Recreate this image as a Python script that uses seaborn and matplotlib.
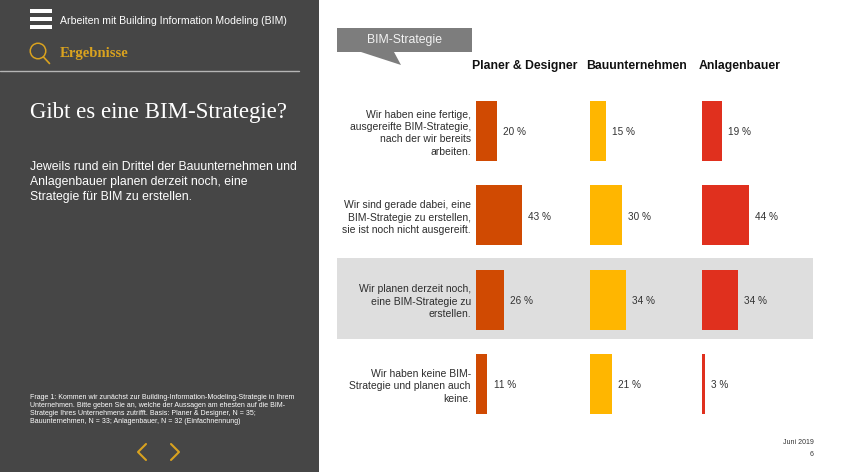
import matplotlib
matplotlib.use("Agg")
import matplotlib.pyplot as plt
from matplotlib.patches import Rectangle, Polygon, Ellipse
from matplotlib.lines import Line2D
import seaborn as sns
import pandas as pd

W, H = 843, 472

statements = [
    "Wir haben eine fertige,\nausgereifte BIM-Strategie,\nnach der wir bereits\narbeiten.",
    "Wir sind gerade dabei, eine\nBIM-Strategie zu erstellen,\nsie ist noch nicht ausgereift.",
    "Wir planen derzeit noch,\neine BIM-Strategie zu\nerstellen.",
    "Wir haben keine BIM-\nStrategie und planen auch\nkeine.",
]
groups = ["Planer & Designer", "Bauunternehmen", "Anlagenbauer"]
planer = [20, 43, 26, 11]
bau = [15, 30, 34, 21]
anlagen = [19, 44, 34, 3]
series = [planer, bau, anlagen]
colors = ["#D04A02", "#FFB600", "#E0301E"]

sns.set_theme(style="white")
plt.rcParams["font.family"] = ["Liberation Sans", "DejaVu Sans"]

fig = plt.figure(figsize=(W / 100, H / 100), dpi=100, facecolor="white")

def fx(x):
    return x / W

def fy(y):
    return 1 - y / H

def rect(x0, y0, x1, y1, color, z=0):
    fig.add_artist(Rectangle((fx(x0), fy(y1)), (x1 - x0) / W, (y1 - y0) / H,
                             transform=fig.transFigure, facecolor=color,
                             edgecolor="none", zorder=z))

def line(xs, ys, color, lw):
    fig.add_artist(Line2D([fx(x) for x in xs], [fy(y) for y in ys], color=color,
                          lw=lw, transform=fig.transFigure, zorder=2))

def text(x, y, s, **kw):
    kw.setdefault("va", "center")
    kw.setdefault("ha", "left")
    fig.text(fx(x), fy(y), s, zorder=3, **kw)

DARK = "#464646"
GOLD = "#D9A21F"
rect(0, 0, 319, H, DARK)
rect(337, 258, 813, 339, "#DEDEDE")

# sidebar
for y0 in (9, 17, 25):
    rect(30, y0, 52, y0 + 3.5, "white", 2)
text(60, 21.5, "Arbeiten mit Building Information Modeling (BIM)", color="white", fontsize=7.55)
fig.add_artist(Ellipse((fx(38), fy(51)), 15.5 / W, 15.5 / H, transform=fig.transFigure,
                       facecolor="none", edgecolor=GOLD, lw=1.1, zorder=2))
line([43.5, 49.5], [57, 63.5], GOLD, 1.2)
text(60, 54, "Ergebnisse", color=GOLD, fontsize=10.6, family="Liberation Serif", weight="bold")
line([0, 299], [71, 71], "#B5B5B5", 1.0)
text(30, 112.5, "Gibt es eine BIM-Strategie?", color="white", fontsize=16.45, family="Liberation Serif")
text(30, 182, "Jeweils rund ein Drittel der Bauunternehmen und\nAnlagenbauer planen derzeit noch, eine\nStrategie für BIM zu erstellen.",
     color="white", fontsize=8.8, linespacing=1.33)
text(30, 409.5, "Frage 1: Kommen wir zunächst zur Building-Information-Modeling-Strategie in Ihrem\n"
     "Unternehmen. Bitte geben Sie an, welche der Aussagen am ehesten auf die BIM-\n"
     "Strategie Ihres Unternehmens zutrifft. Basis: Planer & Designer, N = 35;\n"
     "Bauunternehmen, N = 33; Anlagenbauer, N = 32 (Einfachnennung)",
     color="white", fontsize=5.05, linespacing=1.25)
line([146, 138, 146], [444, 452, 460], GOLD, 1.5)
line([171, 179, 171], [444, 452, 460], GOLD, 1.5)

# callout
fig.add_artist(Polygon([(fx(337), fy(28)), (fx(472), fy(28)), (fx(472), fy(52)), (fx(394), fy(52)),
                        (fx(401), fy(65)), (fx(361), fy(52)), (fx(337), fy(52))],
                       closed=True, transform=fig.transFigure, facecolor="#7D7D7D",
                       edgecolor="none", zorder=1))
text(404.5, 40, "BIM-Strategie", color="#F2F2F2", fontsize=8.8, ha="center")

# bars
xpos = [475.7, 589.7, 701.7]
head_x = [472, 586.5, 699]
row = 84.33
top = 131 - row / 2
scale = 1.07
axw = 105
for i, (vals, col) in enumerate(zip(series, colors)):
    ax = fig.add_axes([fx(xpos[i]), fy(top + 4 * row), axw / W, 4 * row / H], facecolor="none", zorder=2)
    df = pd.DataFrame({"statement": statements, "value": vals})
    sns.barplot(data=df, x="value", y="statement", color=col, saturation=1,
                width=60 / row, orient="h", ax=ax, linewidth=0, edgecolor="none")
    ax.set_xlim(0, axw / scale)
    ax.set_ylim(3.5, -0.5)
    ax.set_xlabel("")
    ax.set_ylabel("")
    ax.set_xticks([])
    sns.despine(ax=ax, left=True, bottom=True, top=True, right=True)
    labels = ax.bar_label(ax.containers[0], fmt="%d %%", padding=4.5, fontsize=7.2, color="#333333")
    for lab in labels:
        lab.set_verticalalignment("center")
        lab.xyann = (lab.xyann[0], -1)
    if i == 0:
        ax.tick_params(axis="y", length=0, pad=3.5, labelsize=7.5, labelcolor="#2d2d2d")
        for t in ax.get_yticklabels():
            t.set_linespacing(1.3)
            t.set_y(t.get_position()[1])
    else:
        ax.set_yticks([])
    text(head_x[i], 69, groups[i], color="#111111", fontsize=8.8, weight="bold", va="baseline")

text(814, 443, "Juni 2019", color="#333333", fontsize=5, ha="right")
text(814, 454, "6", color="#333333", fontsize=5, ha="right")

fig.savefig("out.png", dpi=100, facecolor="white")
